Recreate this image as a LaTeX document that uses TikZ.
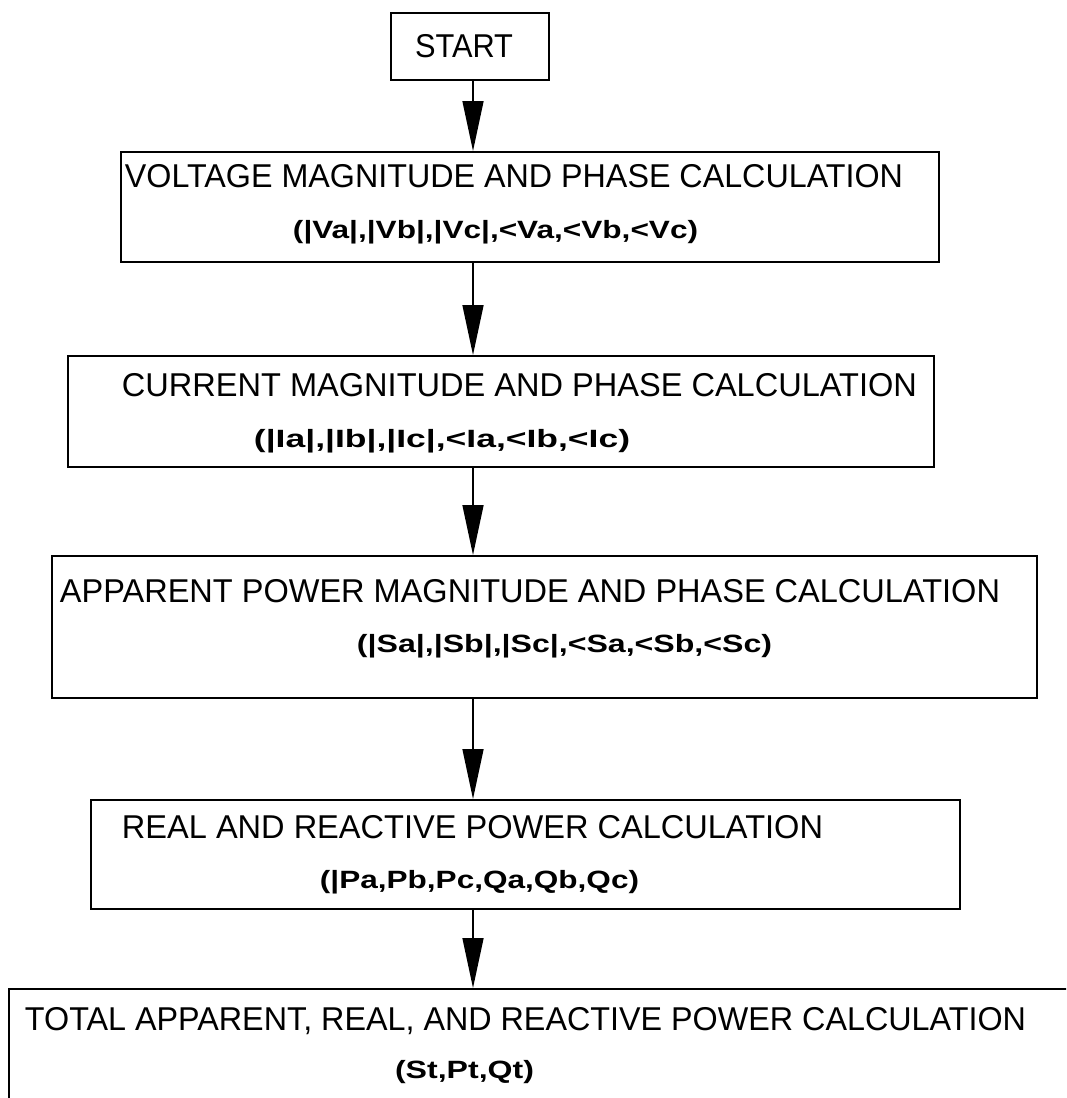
\documentclass[tikz,border=0pt]{standalone}
\usepackage{graphicx}
\usepackage{fontspec}
\setmainfont{Liberation Sans}
\usetikzlibrary{arrows.meta}

% set a line of text to an exact width, keeping its height
\newcommand{\fitto}[2]{\resizebox{#1}{\height}{#2}}

\tikzset{
  stepbox/.style={draw, line width=2pt, inner sep=0pt, anchor=north west},
  headline/.style={anchor=base, inner sep=0pt, font=\fontsize{33}{33}\selectfont},
  subline/.style={anchor=base, inner sep=0pt, font=\bfseries\fontsize{25}{25}\selectfont},
  flow/.style={line width=1.5pt, -{Triangle[length=50pt,width=21pt]}}
}

\begin{document}
\begin{tikzpicture}[x=1pt,y=-1pt]
  \useasboundingbox (0,0) rectangle (1066,1098);
  \fill[white] (0,0) rectangle (1066,1098);
  \clip (0,0) rectangle (1066,1098);

  % process boxes
  \node[stepbox, minimum width=158pt, minimum height=67pt]  (start) at (390,12)  {};
  \node[stepbox, minimum width=818pt, minimum height=110pt] (volt)  at (120,151) {};
  \node[stepbox, minimum width=866pt, minimum height=111pt] (curr)  at (67,355)  {};
  \node[stepbox, minimum width=985pt, minimum height=142pt] (appr)  at (51,555)  {};
  \node[stepbox, minimum width=869pt, minimum height=109pt] (real)  at (90,799)  {};
  \node[stepbox, minimum width=1120pt, minimum height=160pt] (total) at (8,988)  {};

  % box texts
  \node[headline] (startT) at (464,57) {\fitto{98pt}{START}};

  \node[headline] (voltA) at (514,187) {\fitto{778pt}{VOLTAGE MAGNITUDE AND PHASE CALCULATION}};
  \node[subline]  (voltB) at (495.5,238) {\fitto{405pt}{(|Va|,|Vb|,|Vc|,<Va,<Vb,<Vc)}};

  \node[headline] (currA) at (519.5,396) {\fitto{795pt}{CURRENT MAGNITUDE AND PHASE CALCULATION}};
  \node[subline]  (currB) at (442,447) {\fitto{376pt}{(|Ia|,|Ib|,|Ic|,<Ia,<Ib,<Ic)}};

  \node[headline] (apprA) at (530,602) {\fitto{940pt}{APPARENT POWER MAGNITUDE AND PHASE CALCULATION}};
  \node[subline]  (apprB) at (564.5,652) {\fitto{415pt}{(|Sa|,|Sb|,|Sc|,<Sa,<Sb,<Sc)}};

  \node[headline] (realA) at (472.5,838) {\fitto{701pt}{REAL AND REACTIVE POWER CALCULATION}};
  \node[subline]  (realB) at (479.5,888) {\fitto{319pt}{(|Pa,Pb,Pc,Qa,Qb,Qc)}};

  \node[headline] (totalA) at (525.5,1030) {\fitto{1001pt}{TOTAL APPARENT, REAL, AND REACTIVE POWER CALCULATION}};
  \node[subline]  (totalB) at (464.5,1078) {\fitto{139pt}{(St,Pt,Qt)}};

  % flow connectors
  \coordinate (spine) at (473,0);
  \draw[flow] (start.south -| spine) -- (volt.north -| spine);
  \draw[flow] (volt.south -| spine)  -- (curr.north -| spine);
  \draw[flow] (curr.south -| spine)  -- (appr.north -| spine);
  \draw[flow] (appr.south -| spine)  -- (real.north -| spine);
  \draw[flow] (real.south -| spine)  -- (total.north -| spine);
\end{tikzpicture}
\end{document}
